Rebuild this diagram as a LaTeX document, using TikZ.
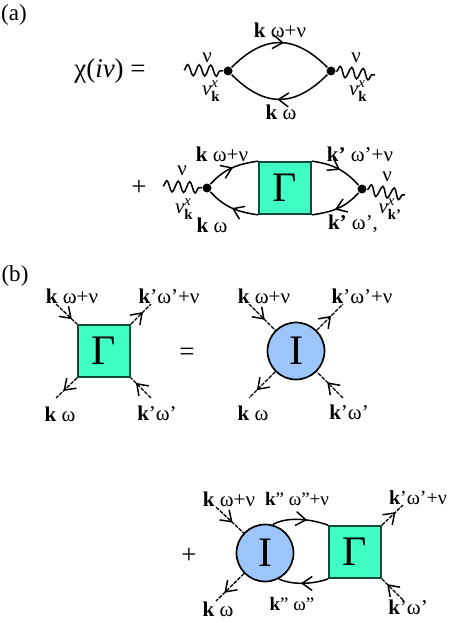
\documentclass[tikz,border=0pt]{standalone}
\usepackage{amsmath}
\usepackage{fontspec}
\setmainfont{Liberation Serif}
\usetikzlibrary{
  arrows.meta, positioning, decorations.pathmorphing, decorations.markings
}
\definecolor{gammagreen}{HTML}{40FFC4}
\definecolor{gammaline}{HTML}{0E4A3A}
\definecolor{irrblue}{HTML}{9CC6FA}
\newcommand{\kb}{\textbf{k}}
\newcommand{\velk}[1]{\textit{v}$^{\textit{x}}_{\textbf{#1}}$}

\begin{document}
\begin{tikzpicture}[
    x=1pt, y=-1pt,
    line width=1.5pt,
    lab/.style={inner sep=0pt, font=\fontsize{21}{23}\selectfont},
    biglab/.style={inner sep=0pt, font=\fontsize{27}{30}\selectfont},
    gammabox/.style={draw=gammaline, fill=gammagreen, minimum size=52pt, inner sep=0pt, line width=1.7pt, font=\fontsize{42}{46}\selectfont},
    irrblob/.style={circle, draw=black, fill=irrblue, minimum size=57pt, inner sep=0pt, line width=1.7pt, font=\fontsize{42}{46}\selectfont},
    vertex/.style={circle, fill=black, minimum size=9pt, inner sep=0pt},
    tipat/.style={postaction={decorate}, decoration={markings, mark=at position #1 with {\arrow{Straight Barb[length=10pt,width=14pt,line width=1.5pt]}}}},
    photon/.style={decorate, decoration={snake, segment length=11.5pt, amplitude=5.5pt}},
    leg/.style={dash pattern=on 4pt off 1.2pt, line width=1.3pt},
]
    \useasboundingbox (0,0) rectangle (448,623);

    % Panel labels
    \node[lab, font=\fontsize{23}{25}\selectfont] (panela) at (14,15) {(a)};
    \node[lab, font=\fontsize{23}{25}\selectfont] (panelb) at (15,276) {(b)};

    % Bare bubble
    \node[biglab] (chi) at (110,71) {χ(\textit{iν}) =};
    \node[vertex] (va) at (228,71) {};
    \node[vertex] (vb) at (331,71) {};
    \coordinate (wa) at (184,70);
    \coordinate (wb) at (375,75);
    \draw[photon] (wa) -- (va);
    \draw[photon] (vb) -- (wb);
    \draw[tipat=0.54] (va) to[bend left=45, looseness=1.25] (vb);
    \draw[tipat=0.52] (vb) to[bend left=45, looseness=1.25] (va);
    \node[lab] (nua) at (207,58) {ν};
    \node[lab] (nub) at (356,58) {ν};
    \node[lab] (velka) at (211,91) {\velk{k}};
    \node[lab] (velkb) at (358,91) {\velk{k}};
    \node[lab] (topa) at (280,30) {\kb{} ω+ν};
    \node[lab] (bota) at (281,112) {\kb{} ω};

    % Bubble with vertex
    \node[biglab] (plusa) at (139,188) {+};
    \node[vertex] (vc) at (207,188) {};
    \node[vertex] (vd) at (362,189) {};
    \coordinate (wc) at (163,186);
    \coordinate (wd) at (405,195);
    \draw[photon] (wc) -- (vc);
    \draw[photon] (vd) -- (wd);
    \node[gammabox] (gama) at (285,188) {Γ};
    \draw[tipat=0.52] (vc) to[out=48, in=188] (gama.north west);
    \draw[tipat=0.5] (gama.south west) to[out=172, in=-48] (vc);
    \draw[tipat=0.55] (gama.north east) to[out=-8, in=132] (vd);
    \draw[tipat=0.55] (vd) to[out=-132, in=8] (gama.south east);
    \node[lab] (nuc) at (182,171) {ν};
    \node[lab] (nud) at (387,177) {ν};
    \node[lab] (velkc) at (184,209) {\velk{k}};
    \node[lab] (velkd) at (390,209) {\velk{k'}};
    \node[lab] (topc) at (222,154) {\kb{} ω+ν};
    \node[lab] (botc) at (212,225) {\kb{} ω};
    \node[lab] (topd) at (360,154) {\textbf{k'} ω'+ν};
    \node[lab] (botd) at (353,224) {\textbf{k'} ω',};

    % Vertex equation, left side
    \node[gammabox] (gamb) at (104,351) {Γ};
    \coordinate (la) at (56,304);
    \coordinate (lb) at (151,304);
    \coordinate (lc) at (56,398);
    \coordinate (ld) at (151,398);
    \draw[leg, tipat=0.75] (la) -- (gamb.north west);
    \draw[leg, tipat=0.6] (gamb.north east) -- (lb);
    \draw[leg, tipat=0.65] (gamb.south west) -- (lc);
    \draw[leg, tipat=0.75] (ld) -- (gamb.south east);
    \node[lab] (laba) at (72,296) {\kb{} ω+ν};
    \node[lab] (labb) at (169,296) {\textbf{k}'ω'+ν};
    \node[lab] (labc) at (60,414) {\kb{} ω};
    \node[lab] (labd) at (157,413) {\textbf{k}'ω'};
    \node[biglab] (eq) at (187,354) {=};

    % Vertex equation, right side
    \node[irrblob] (irra) at (296,351) {I};
    \coordinate (ma) at (249,304);
    \coordinate (mb) at (343,304);
    \coordinate (mc) at (249,398);
    \coordinate (md) at (343,398);
    \draw[leg, tipat=0.6] (ma) -- (irra);
    \draw[leg, tipat=0.55] (irra) -- (mb);
    \draw[leg, tipat=0.7] (irra) -- (mc);
    \draw[leg, tipat=0.6] (md) -- (irra);
    \node[lab] (labe) at (264,296) {\kb{} ω+ν};
    \node[lab] (labf) at (362,296) {\textbf{k}'ω'+ν};
    \node[lab] (labg) at (253,413) {\kb{} ω};
    \node[lab] (labh) at (349,412) {\textbf{k}'ω'};

    % Ladder term
    \node[biglab] (plusb) at (189,556) {+};
    \node[irrblob] (irrb) at (265,553) {I};
    \node[gammabox] (gamc) at (355,552) {Γ};
    \coordinate (na) at (216,507);
    \coordinate (nb) at (403,505);
    \coordinate (nc) at (216,601);
    \coordinate (nd) at (403,600);
    \draw[leg, tipat=0.6] (na) -- (irrb);
    \draw[leg, tipat=0.65] (gamc.north east) -- (nb);
    \draw[leg, tipat=0.7] (irrb) -- (nc);
    \draw[leg, tipat=0.75] (nd) -- (gamc.south east);
    \draw[tipat=0.62] (irrb.75) to[out=30, in=160, looseness=0.8] (gamc.north west);
    \draw[tipat=0.55] (gamc.south west) to[out=200, in=-25, looseness=0.8] (irrb.-62);
    \node[lab] (labi) at (229,499) {\kb{} ω+ν};
    \node[lab, font=\fontsize{19}{21}\selectfont] (labj) at (297,499) {\textbf{k}" ω"+ν};
    \node[lab, font=\fontsize{20}{22}\selectfont] (labk) at (418,498) {\textbf{k}'ω'+ν};
    \node[lab] (labl) at (218,609) {\kb{} ω};
    \node[lab, font=\fontsize{19}{21}\selectfont] (labm) at (292,604) {\textbf{k}" ω"};
    \node[lab] (labn) at (408,607) {\textbf{k}'ω'};
\end{tikzpicture}
\end{document}
